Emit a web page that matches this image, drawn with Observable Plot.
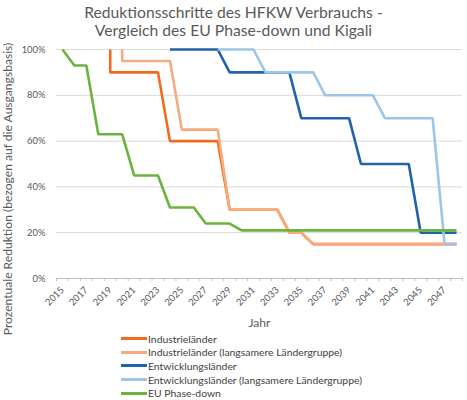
<!DOCTYPE html>
<html>
<head>
<meta charset="utf-8">
<script src="https://cdn.jsdelivr.net/npm/d3@7"></script>
<script src="https://cdn.jsdelivr.net/npm/@observablehq/plot@0.6"></script>
<style>
  body { margin: 0; background: #fff; font-family: Lato, sans-serif; color: #595959; }
  #wrap { position: relative; width: 467px; height: 400px; overflow: hidden; }
  #title { position: absolute; top: 3px; left: 0; width: 467px; text-align: center;
           line-height: 18px; color: #595959; white-space: nowrap; }
  #chart { position: absolute; top: 40px; left: 0; }
  #legend { position: absolute; top: 332px; left: 121px; color: #404040; white-space: nowrap; }
  .row { display: flex; align-items: center; height: 13.6px; }
  .sw { width: 26px; height: 3px; margin-right: 1px; flex: none; }
</style>
</head>
<body>
<div id="wrap">
  <div id="title">Reduktionsschritte des HFKW Verbrauchs -<br>Vergleich des EU Phase-down und Kigali</div>
  <div id="chart"></div>
  <div id="legend"></div>
</div>
<script>
// Jahre (Kategorien)
const years = [2015,2016,2017,2018,2019,2020,2021,2022,2023,2024,2025,2026,2027,2028,2029,2030,2031,
               2032,2033,2034,2035,2036,2037,2038,2039,2040,2041,2042,2043,2044,2045,2046,2047,2048]
const yearLabels = [2015,2017,2019,2021,2023,2025,2027,2029,2031,2033,2035,2037,2039,2041,2043,2045,2047]
const yTicks = [0, 20, 40, 60, 80, 100]

const seriesNames = [
  "Industrieländer",
  "Industrieländer (langsamere Ländergruppe)",
  "Entwicklungsländer",
  "Entwicklungsländer (langsamere Ländergruppe)",
  "EU Phase-down"
]
const colors = ["#f26b1d", "#f7aa7c", "#1f63ae", "#9dc5ea", "#6ab33e"]

// Prozent der Ausgangsbasis je Jahr (null = kein Wert)
const industrie     = [null,null,null,null,90,90,90,90,90,60,60,60,60,60,30,30,30,30,30,20,20,15,15,15,15,15,15,15,15,15,15,15,15,15]
const industrieSlow = [null,null,null,null,null,95,95,95,95,95,65,65,65,65,30,30,30,30,30,20,20,15,15,15,15,15,15,15,15,15,15,15,15,15]
const entwicklung   = [null,null,null,null,null,null,null,null,null,100,100,100,100,100,90,90,90,90,90,90,70,70,70,70,70,50,50,50,50,50,20,20,20,20]
const entwicklungSlow = [null,null,null,null,null,null,null,null,null,null,null,null,null,100,100,100,100,90,90,90,90,90,80,80,80,80,80,70,70,70,70,70,15,15]
const euPhaseDown   = [100,93,93,63,63,63,45,45,45,31,31,31,24,24,24,21,21,21,21,21,21,21,21,21,21,21,21,21,21,21,21,21,21,21]
// Linie beginnt mit senkrechtem Abfall von diesem Wert
const startLevel = [100, 100, null, null, null]

const yTitle = "Prozentuale Reduktion (bezogen auf die Ausgangsbasis)"

const allValues = [industrie, industrieSlow, entwicklung, entwicklungSlow, euPhaseDown]

const rows = []
allValues.forEach((vals, s) => {
  let first = true
  vals.forEach((v, i) => {
    if (v == null) return
    if (first && startLevel[s] != null) rows.push({series: seriesNames[s], year: years[i], value: startLevel[s]})
    first = false
    rows.push({series: seriesNames[s], year: years[i], value: v})
  })
})

const boundaries = [...years.map(y => y - 0.5), years[years.length - 1] + 0.5]

// Schriftgröße so wählen, dass der Text die Breite aus der Vorlage bekommt
const ctx = document.createElement("canvas").getContext("2d")
function fit(text, width) {
  ctx.font = "100px Lato"
  return Math.round(100 * width / ctx.measureText(text).width * 10) / 10
}
const titleSize = fit("Reduktionsschritte des HFKW Verbrauchs -", 299)
const legendSize = fit("Entwicklungsländer (langsamere Ländergruppe)", 215)
const yTitleSize = fit(yTitle, 293)
const yTickSize = fit("100%", 24)
const xTickSize = fit("2015", 22)
const jahrSize = fit("Jahr", 22)

d3.select("#title").style("font-size", titleSize + "px")

const chart = Plot.plot({
  width: 467,
  height: 290,
  marginTop: 9,
  marginLeft: 56,
  marginRight: 5,
  marginBottom: 52,
  style: {fontFamily: "Lato, sans-serif", color: "#595959", overflow: "visible"},
  x: {domain: [2014.5, 2048.5]},
  y: {domain: [0, 100]},
  color: {domain: seriesNames, range: colors},
  marks: [
    Plot.ruleY(yTicks.slice(1), {stroke: "#d9d9d9", strokeWidth: 1}),
    Plot.ruleY([0], {stroke: "#bfbfbf", strokeWidth: 1}),
    Plot.axisY({ticks: yTicks, tickFormat: d => d + "%", tickSize: 0, tickPadding: 11, fontSize: yTickSize, label: null}),
    Plot.axisX({ticks: boundaries, tickFormat: () => "", tickSize: 3, stroke: "#bfbfbf", label: null}),
    Plot.axisX({ticks: yearLabels, tickFormat: d => String(d), tickSize: 0, tickRotate: -45, tickPadding: 10, fontSize: xTickSize, label: null}),
    Plot.line(rows, {x: "year", y: "value", z: "series", stroke: "series", strokeWidth: 2.6, strokeLinejoin: "miter", strokeLinecap: "butt"}),
    Plot.text(["Jahr"], {frameAnchor: "bottom", lineAnchor: "middle", dy: 45, fontSize: jahrSize, fill: "#595959"}),
    Plot.text([yTitle], {frameAnchor: "left", textAnchor: "middle", lineAnchor: "middle", rotate: -90, dx: -48, dy: 25, fontSize: yTitleSize, fill: "#595959"})
  ]
})

d3.select("#chart").append(() => chart)

const legend = d3.select("#legend").style("font-size", legendSize + "px")
seriesNames.forEach((name, i) => {
  const row = legend.append("div").attr("class", "row")
  row.append("div").attr("class", "sw").style("background", colors[i])
  row.append("span").text(name)
})
</script>
</body>
</html>
